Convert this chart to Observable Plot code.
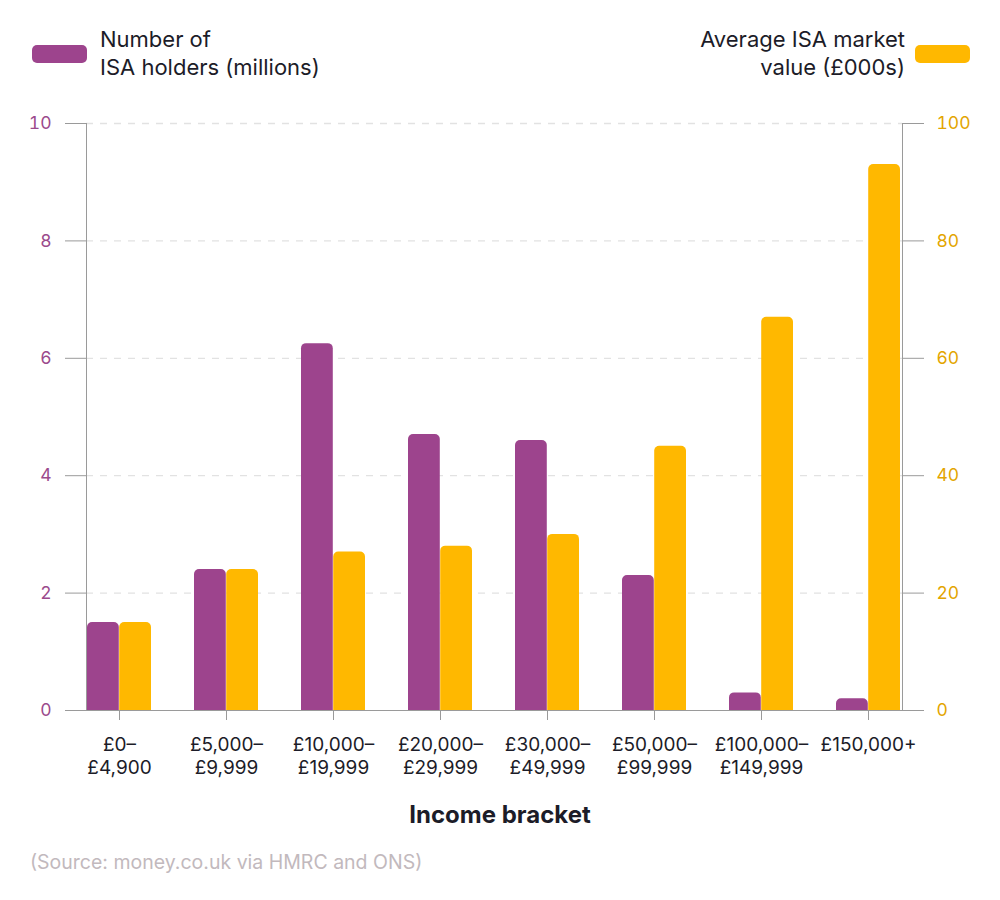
<!DOCTYPE html>
<html>
<head>
<meta charset="utf-8">
<script src="https://cdn.jsdelivr.net/npm/d3@7"></script>
<script src="https://cdn.jsdelivr.net/npm/@observablehq/plot@0.6"></script>
<style>
  body { margin: 0; background: #fff; font-family: Inter, "Noto Sans", sans-serif; color: #1c1c28; }
  #wrap { width: 1000px; position: relative; }
  #legend { position: relative; height: 100px; }
  .sw { position: absolute; top: 45px; width: 55px; height: 18px; border-radius: 5px; }
  .lt { position: absolute; top: 25px; font-size: 22px; line-height: 28px; }
  #xlabel { text-align: center; font-weight: 700; font-size: 24px; margin-top: 10px; line-height: 30px; }
  #source { margin-left: 30px; margin-top: 20px; font-size: 19.5px; color: #c2b9bd; }
</style>
</head>
<body>
<div id="wrap">
  <div id="legend">
    <div class="sw" style="left:32px;background:#9d448d"></div>
    <div class="lt" style="left:100px">Number of<br>ISA holders (millions)</div>
    <div class="lt" style="right:95px;text-align:right">Average ISA market<br>value (£000s)</div>
    <div class="sw" style="left:915px;background:#ffb800"></div>
  </div>
  <div id="chart"></div>
  <div id="xlabel">Income bracket</div>
  <div id="source">(Source: money.co.uk via HMRC and ONS)</div>
</div>
<script>
const categories = ["£0–\n£4,900", "£5,000–\n£9,999", "£10,000–\n£19,999", "£20,000–\n£29,999", "£30,000–\n£49,999", "£50,000–\n£99,999", "£100,000–\n£149,999", "£150,000+"];
const holders = [1.5, 2.4, 6.25, 4.7, 4.6, 2.3, 0.3, 0.2];        // millions
const marketValue = [15, 24, 27, 28, 30, 45, 67, 93];            // £000s
const leftTicks = [0, 2, 4, 6, 8, 10];
const gridTicks = [2, 4, 6, 8, 10];

const purple = "#9d448d";
const yellow = "#ffb800";
const purpleText = "#9b4a8c";
const yellowText = "#e3a500";
const axisGray = "#9a9a9a";

const data = categories.map((c, i) => ({category: c, holders: holders[i], value: marketValue[i]}));

const width = 1000, marginLeft = 86, marginRight = 98, pad = 0.4;
const step = (width - marginLeft - marginRight) / (categories.length - pad);
const half = step * (1 - pad) / 2;

const chart = Plot.plot({
  width, height: 690,
  marginLeft, marginRight, marginTop: 23, marginBottom: 80,
  style: {fontFamily: "Inter, 'Noto Sans', sans-serif", fontSize: "17.5px", color: "#1c1c28", background: "#fff"},
  x: {domain: categories, paddingInner: pad, paddingOuter: 0, label: null},
  y: {domain: [0, 10], label: null},
  marks: [
    Plot.ruleY(gridTicks, {stroke: "#e2e2e2", strokeWidth: 1.3, strokeDasharray: "7,7"}),
    Plot.barY(data, {x: "category", y: "holders", fill: purple, insetRight: half, ry1: 5}),
    Plot.barY(data, {x: "category", y: d => d.value / 10, fill: yellow, insetLeft: half, ry1: 5}),
    Plot.frame({anchor: "left", stroke: axisGray}),
    Plot.frame({anchor: "right", stroke: axisGray}),
    Plot.ruleY([0], {stroke: axisGray, insetLeft: -21, insetRight: -21}),
    Plot.axisY({ticks: leftTicks, tickSize: 21, tickPadding: 14, stroke: axisGray, fill: purpleText, label: null}),
    Plot.axisY({anchor: "right", ticks: leftTicks, tickFormat: d => d * 10, tickSize: 21, tickPadding: 13, stroke: axisGray, fill: yellowText, label: null}),
    Plot.axisX({tickSize: 10, tickPadding: 14, stroke: axisGray, fill: "#1c1c28", fontSize: 19, lineHeight: 1.22, label: null})
  ]
});
document.getElementById("chart").appendChild(chart);
</script>
</body>
</html>
